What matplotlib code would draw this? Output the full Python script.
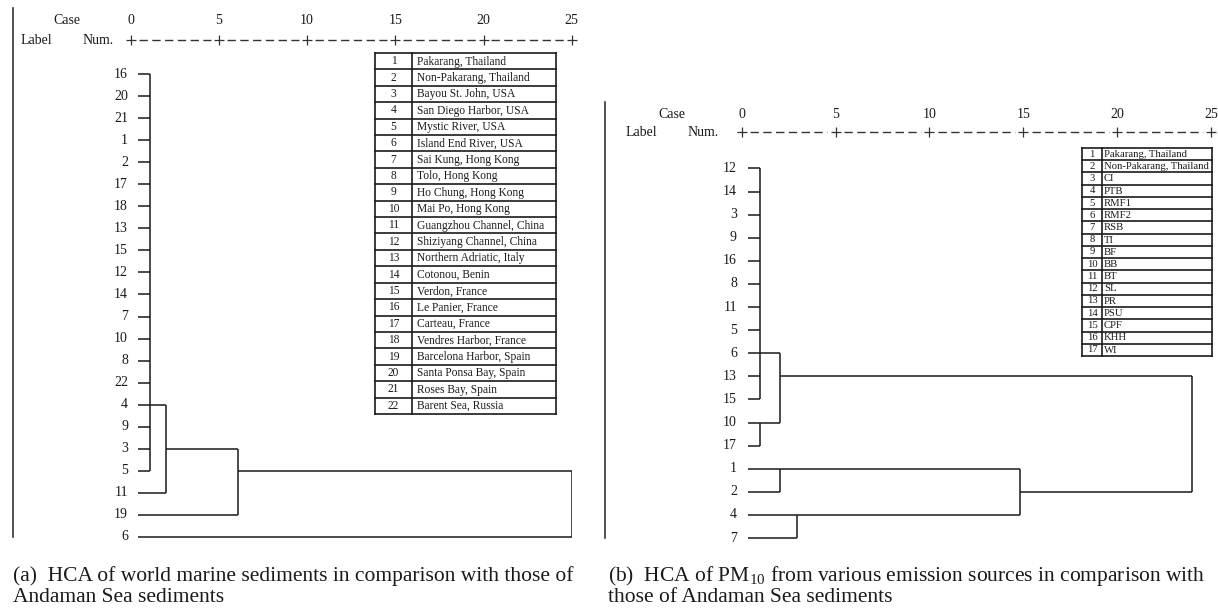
import matplotlib
matplotlib.use("Agg")
import matplotlib.pyplot as plt
import matplotlib.transforms as mtransforms
from matplotlib.lines import Line2D

plt.rcParams.update({
    "font.family": "Liberation Serif",
    "mathtext.fontset": "custom",
    "mathtext.rm": "Liberation Serif",
    "mathtext.it": "Liberation Serif:italic",
})

W, H = 1218, 609
INK = "#1a1a1a"

# ---- (a) world marine sediments ----
order_a = [16, 20, 21, 1, 2, 17, 18, 13, 15, 12, 14, 7, 10, 8, 22, 4, 9, 3, 5, 11, 19, 6]
# tight bundle of near-identical sites: (name, first, last, distance, exit leaf)
bundles_a = [("A", 16, 5, 1.1, 4)]
joins_a = [
    ("B", "A", 11, 2.0),
    ("C", "B", 19, 6.1),
    ("D", "C", 6, 25.0),
]
sites_a = ["Pakarang, Thailand", "Non-Pakarang, Thailand", "Bayou St. John, USA",
           "San Diego Harbor, USA", "Mystic River, USA", "Island End River, USA",
           "Sai Kung, Hong Kong", "Tolo, Hong Kong", "Ho Chung, Hong Kong",
           "Mai Po, Hong Kong", "Guangzhou Channel, China", "Shiziyang Channel, China",
           "Northern Adriatic, Italy", "Cotonou, Benin", "Verdon, France",
           "Le Panier, France", "Carteau, France", "Vendres Harbor, France",
           "Barcelona Harbor, Spain", "Santa Ponsa Bay, Spain", "Roses Bay, Spain",
           "Barent Sea, Russia"]

# ---- (b) PM10 emission sources ----
order_b = [12, 14, 3, 9, 16, 8, 11, 5, 6, 13, 15, 10, 17, 1, 2, 4, 7]
bundles_b = [("A", 12, 15, 1.0, 6)]
joins_b = [
    ("B", 10, 17, 1.0),
    ("C", "A", "B", 2.05),
    ("E", 1, 2, 2.05),
    ("F", 4, 7, 2.95),
    ("G", "E", "F", 14.8),
    ("H", "C", "G", 24.0),
]
sources_b = ["Pakarang, Thailand", "Non-Pakarang, Thailand", "CI", "PTB", "RMF1",
             "RMF2", "RSB", "TI", "BF", "BB", "BT", "SL", "PR", "PSU", "CPF",
             "KHH", "WI"]

scale_ticks = [0, 5, 10, 15, 20, 25]

caption_a = ["(a)  HCA of world marine sediments in comparison with those of",
             "Andaman Sea sediments"]
caption_b = ["(b)  HCA of PM$_{10}$ from various emission sources in comparison with",
             "those of Andaman Sea sediments"]


def px_box(x0, y0, x1, y1):
    return [x0 / W, 1 - y1 / H, (x1 - x0) / W, (y1 - y0) / H]


def draw_dendrogram(ax, order, bundles, joins, leaf_x, label_pad, fs):
    row = {lab: i for i, lab in enumerate(order)}
    pos = {lab: (leaf_x, row[lab]) for lab in order}
    kw = dict(color=INK, lw=1.1, solid_capstyle="butt")
    for name, first, last, d, exit_lab in bundles:
        r0, r1 = row[first], row[last]
        for r in range(r0, r1 + 1):
            ax.plot([leaf_x, d], [r, r], **kw)
        ax.plot([d, d], [r0, r1], **kw)
        pos[name] = (d, row[exit_lab])
    for name, a, b, d in joins:
        xa, ra = pos[a]
        xb, rb = pos[b]
        ax.plot([xa, d], [ra, ra], **kw)
        ax.plot([xb, d], [rb, rb], **kw)
        ax.plot([d, d], [ra, rb], **kw)
        pos[name] = (d, (ra + rb) // 2)
    for lab in order:
        ax.annotate(str(lab), (leaf_x, row[lab]), xytext=(-label_pad, 0),
                    textcoords="offset points", ha="right", va="center",
                    fontsize=fs, color=INK)


def draw_header(ax, tick_y, line_y, case_xy, label_xy, num_xy, fs):
    tr = mtransforms.blended_transform_factory(ax.transData, fig.transFigure)
    ty, ly = 1 - tick_y / H, 1 - line_y / H
    for t in scale_ticks:
        ax.text(t, ty, str(t), transform=tr, ha="center", va="center",
                fontsize=fs, color=INK, clip_on=False)
    for a, b in zip(scale_ticks[:-1], scale_ticks[1:]):
        ax.add_line(Line2D([a + 0.45, b - 0.45], [ly, ly], transform=tr, color="#333333",
                           lw=1.0, ls=(0, (6, 3.2)), clip_on=False))
    ax.plot(scale_ticks, [ly] * len(scale_ticks), transform=tr, ls="none",
            marker="+", ms=7, mew=0.9, color="#333333", clip_on=False)
    fig.text(case_xy[0] / W, 1 - case_xy[1] / H, "Case", ha="center", va="center",
             fontsize=fs, color=INK)
    fig.text(label_xy[0] / W, 1 - label_xy[1] / H, "Label", ha="left", va="center",
             fontsize=fs, color=INK)
    fig.text(num_xy[0] / W, 1 - num_xy[1] / H, "Num.", ha="left", va="center",
             fontsize=fs, color=INK)


def draw_key(box, numbers, names, split_x, fs, name_pad):
    x0, y0, x1, y1 = box
    kax = fig.add_axes(px_box(x0, y0, x1, y1))
    n = len(names)
    frac = (split_x - x0) / (x1 - x0)
    kax.set_xlim(0, 1)
    kax.set_ylim(n, 0)
    kax.axis("off")
    kw = dict(color=INK, lw=1.2, clip_on=False)
    for r in range(n + 1):
        kax.plot([0, 1], [r, r], **kw)
    for xv in (0, frac, 1):
        kax.plot([xv, xv], [0, n], **kw)
    for r, (num, nm) in enumerate(zip(numbers, names)):
        kax.text(frac / 2, r + 0.5, str(num), ha="center", va="center",
                 fontsize=fs, color=INK)
        kax.text(frac + name_pad, r + 0.52, nm, ha="left", va="center",
                 fontsize=fs, color=INK)


fig = plt.figure(figsize=(W / 100, H / 100), dpi=100)

# panel (a): distance 0..25 spans px 130.7..571.7, rows at 74..537
ax_a = fig.add_axes(px_box(130.7, 74 - 11.02, 571.7, 537 + 11.02))
ax_a.set_xlim(0, 25)
ax_a.set_ylim(len(order_a) - 0.5, -0.5)
ax_a.axis("off")
draw_dendrogram(ax_a, order_a, bundles_a, joins_a, leaf_x=0.40, label_pad=7, fs=10)
draw_header(ax_a, 20, 40, (67, 20), (21, 40), (83, 40), 10)
fig.add_artist(Line2D([13 / W, 13 / W], [1 - 8 / H, 1 - 537 / H], color="#333333", lw=1.2))
draw_key((375, 53, 556, 414), range(1, len(sites_a) + 1), sites_a, 412, 8.3, 0.03)

# panel (b): distance 0..25 spans px 741.7..1211, rows at 168.5..538
ax_b = fig.add_axes(px_box(741.7, 168.5 - 11.55, 1211, 538 + 11.55))
ax_b.set_xlim(0, 25)
ax_b.set_ylim(len(order_b) - 0.5, -0.5)
ax_b.axis("off")
draw_dendrogram(ax_b, order_b, bundles_b, joins_b, leaf_x=0.34, label_pad=8, fs=10)
draw_header(ax_b, 115, 132, (672, 115), (626, 132), (688, 132), 10)
fig.add_artist(Line2D([605 / W, 605 / W], [1 - 102 / H, 1 - 538 / H], color="#333333", lw=1.2))
draw_key((1082, 148, 1212, 356), range(1, len(sources_b) + 1), sources_b, 1102, 7.7, 0.015)

cap_fs = 15.5
for x0, lines in ((13, caption_a), (608, caption_b)):
    for k, line in enumerate(lines):
        fig.text(x0 / W, 1 - (576 + 21.5 * k) / H, line, ha="left", va="center",
                 fontsize=cap_fs, color=INK)

fig.savefig("out.png", dpi=100, facecolor="white")
